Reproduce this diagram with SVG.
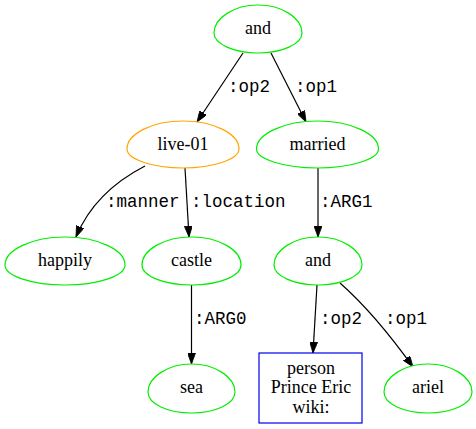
<svg xmlns="http://www.w3.org/2000/svg" width="476" height="429" viewBox="0 0 476 429">
<style>
.n{fill:#fff;stroke:#00ee00;stroke-width:1.2}
.o{stroke:#ffa500}
.b{fill:#fff;stroke:#0000ee;stroke-width:1.2}
.t{font-family:"Liberation Serif","Times New Roman",serif;font-size:18px;fill:#000;text-anchor:middle}
.e{fill:none;stroke:#000;stroke-width:1.2}
.l{font-family:"Liberation Mono","Courier New",monospace;font-size:17.5px;fill:#000}
</style>
<defs>
<marker id="a" markerWidth="11" markerHeight="8" refX="11" refY="4" orient="auto" markerUnits="userSpaceOnUse">
<path d="M0,0 L11,4 L0,8 Z" fill="#000" stroke="#000" stroke-width="0.8"/>
</marker>
</defs>
<rect width="476" height="429" fill="#fff"/>
<g id="edges">
<path class="e" d="M243,53 L197,122" marker-end="url(#a)"/>
<text class="l" x="228" y="92">:op2</text>
<path class="e" d="M271,53 L306,122" marker-end="url(#a)"/>
<text class="l" x="295" y="92">:op1</text>
<path class="e" d="M145,166 C112,183 88,208 76,237" marker-end="url(#a)"/>
<text class="l" x="106" y="207">:manner</text>
<path class="e" d="M185,168 L189,237" marker-end="url(#a)"/>
<text class="l" x="191" y="207">:location</text>
<path class="e" d="M318,168 L318,237" marker-end="url(#a)"/>
<text class="l" x="320" y="207">:ARG1</text>
<path class="e" d="M191.5,285 L191.5,364" marker-end="url(#a)"/>
<text class="l" x="194" y="324">:ARG0</text>
<path class="e" d="M317,285 L313,353" marker-end="url(#a)"/>
<text class="l" x="320" y="324">:op2</text>
<path class="e" d="M340,283 C365,305 390,335 413,367" marker-end="url(#a)"/>
<text class="l" x="385" y="324">:op1</text>
</g>
<g id="and1">
<path class="n" d="M214,33 C214,18 234,5 258,5 C282,5 302,18 302,33 C302,44 282,53 258,53 C234,53 214,44 214,33 Z"/>
<text class="t" x="258" y="34">and</text>
</g>
<g id="live01">
<path class="n o" d="M127,149 C127,134 152,121 183,121 C214,121 239,134 239,149 C239,159 214,168 183,168 C152,168 127,159 127,149 Z"/>
<text class="t" x="183" y="150">live-01</text>
</g>
<g id="married">
<path class="n" d="M256.5,149 C256.5,134 284,121 317.5,121 C351,121 378.5,134 378.5,149 C378.5,159 351,168 317.5,168 C284,168 256.5,159 256.5,149 Z"/>
<text class="t" x="317.5" y="150">married</text>
</g>
<g id="happily">
<path class="n" d="M5,265 C5,250 32,237 65,237 C98,237 125,250 125,265 C125,276 98,285 65,285 C32,285 5,276 5,265 Z"/>
<text class="t" x="65" y="266">happily</text>
</g>
<g id="castle">
<path class="n" d="M142,265 C142,250 164,237 191.5,237 C219,237 241,250 241,265 C241,276 219,285 191.5,285 C164,285 142,276 142,265 Z"/>
<text class="t" x="191.5" y="266">castle</text>
</g>
<g id="and2">
<path class="n" d="M274,265 C274,250 294,237 318,237 C342,237 362,250 362,265 C362,276 342,285 318,285 C294,285 274,276 274,265 Z"/>
<text class="t" x="318" y="266">and</text>
</g>
<g id="sea">
<path class="n" d="M148,392 C148,377 168,364 191.5,364 C215,364 235,377 235,392 C235,404 215,413 191.5,413 C168,413 148,404 148,392 Z"/>
<text class="t" x="191.5" y="393">sea</text>
</g>
<g id="person">
<rect class="b" x="259" y="353" width="103" height="70"/>
<text class="t" x="311" y="374">person</text>
<text class="t" x="311" y="393">Prince Eric</text>
<text class="t" x="311" y="413">wiki:</text>
</g>
<g id="ariel">
<path class="n" d="M384,392 C384,377 404,364 428,364 C452,364 472,377 472,392 C472,404 452,413 428,413 C404,413 384,404 384,392 Z"/>
<text class="t" x="428" y="393">ariel</text>
</g>
</svg>
